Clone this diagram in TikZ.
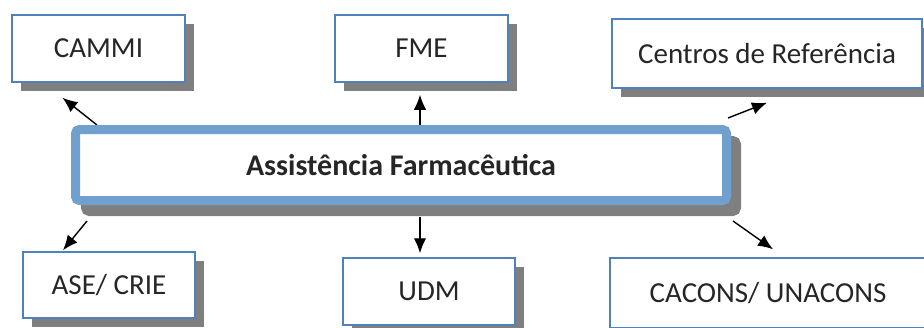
\documentclass[tikz,border=0pt]{standalone}
\usepackage{fontspec}
\setmainfont{Carlito}
\usetikzlibrary{shadows,arrows.meta}
\pgfdeclarelayer{edgelayer}
\pgfdeclarelayer{nodelayer}
\pgfsetlayers{edgelayer,nodelayer,main}
\definecolor{boxblue}{RGB}{79,129,189}
\definecolor{hubblue}{RGB}{112,160,206}
\definecolor{shadowgray}{RGB}{127,127,127}
\definecolor{textgray}{RGB}{38,38,38}
\tikzstyle{edge}=[draw=black, line width=1.4pt, -{Latex[length=15pt,width=12.5pt]}]
\tikzstyle{unit}=[rectangle, fill=white, draw=boxblue, line width=1.5pt, text=textgray, font=\fontsize{29}{34}\selectfont, drop shadow={shadow xshift=9pt, shadow yshift=-9pt, fill=shadowgray, opacity=1}]
\tikzstyle{hub}=[rectangle, rounded corners=4pt, fill=white, draw=hubblue, line width=9pt, text=textgray, font=\fontsize{30}{35}\selectfont\bfseries, drop shadow={shadow xshift=10pt, shadow yshift=-11pt, fill=shadowgray, draw=shadowgray, line width=9pt, opacity=1}]

\begin{document}
\begin{tikzpicture}[x=1pt, y=-1pt]
				\useasboundingbox (0, 0) rectangle (924, 327);
				\begin{pgfonlayer}{nodelayer}
					\node [style=hub, minimum width=651pt, minimum height=71pt] (0) at (401, 165) {Assist\^encia Farmac\^eutica};
					\node [style=unit, minimum width=173pt, minimum height=67pt] (1) at (98.5, 48.5) {CAMMI};
					\node [style=unit, minimum width=173pt, minimum height=67pt] (2) at (421.5, 48.5) {FME};
					\node [style=unit, minimum width=310pt, minimum height=69pt] (3) at (767, 53.5) {Centros de Refer\^encia};
					\node [style=unit, minimum width=172pt, minimum height=66pt] (4) at (109, 285) {ASE/ CRIE};
					\node [style=unit, minimum width=172pt, minimum height=67pt] (5) at (429, 291.5) {UDM};
					\node [style=unit, minimum width=316pt, minimum height=70pt] (6) at (768, 293) {CACONS/ UNACONS};
				\end{pgfonlayer}
				\begin{pgfonlayer}{edgelayer}
					\draw [style=edge] ([xshift=26pt]0.north west) to ([xshift=-36pt, yshift=-15pt]1.south);
					\draw [style=edge] ([xshift=19pt]0.north) to ([xshift=-1.5pt, yshift=-12pt]2.south);
					\draw [style=edge] ([xshift=-3pt, yshift=7pt]0.north east) to ([yshift=-14pt]3.south);
					\draw [style=edge] ([xshift=16pt, yshift=-16pt]0.south west) to ([xshift=-46pt, yshift=1pt]4.north);
					\draw [style=edge] ([xshift=19pt, yshift=-12pt]0.south) to ([xshift=-9pt, yshift=4pt]5.north);
					\draw [style=edge] ([xshift=2pt, yshift=-16pt]0.south east) to ([xshift=5pt, yshift=8pt]6.north);
				\end{pgfonlayer}
			\end{tikzpicture}
\end{document}
